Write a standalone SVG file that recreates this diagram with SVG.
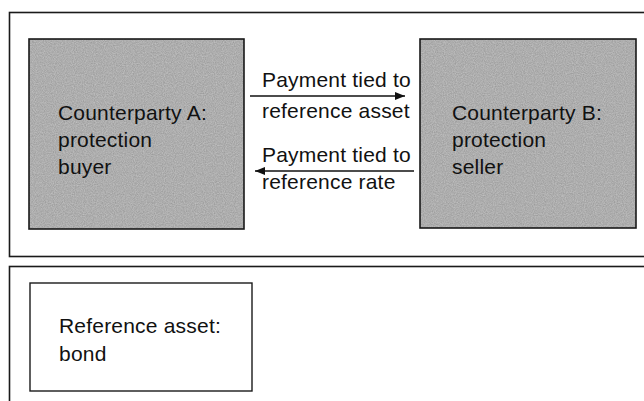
<svg xmlns="http://www.w3.org/2000/svg" width="644" height="401" viewBox="0 0 644 401">
<style>
.frame{fill:none;stroke:#1a1a1a;stroke-width:1.6}
.shade{fill:#bfbfbf;stroke:#1a1a1a;stroke-width:1.6}
.plain{fill:#ffffff;stroke:#1a1a1a;stroke-width:1.4}
.t{font-family:"Liberation Sans",Arial,sans-serif;font-size:21px;letter-spacing:0.2px;fill:#111}
.conn{stroke:#111;stroke-width:1.6;fill:none}
</style>
<defs>
<filter id="grain" x="0" y="0" width="100%" height="100%">
<feTurbulence type="fractalNoise" baseFrequency="0.9" numOctaves="2" seed="3" result="n"/>
<feColorMatrix in="n" type="matrix" values="0 0 0 0 0  0 0 0 0 0  0 0 0 0 0  0 0 0 -1.2 1.05" result="a"/>
<feComposite in="a" in2="SourceGraphic" operator="in"/>
</filter>
<marker id="ah" viewBox="0 0 10 8" refX="10" refY="4" markerWidth="10" markerHeight="8" markerUnits="userSpaceOnUse" orient="auto">
<path d="M0,0 L10,4 L0,8 Z" fill="#111"/>
</marker>
</defs>
<rect x="0" y="0" width="644" height="401" fill="#ffffff"/>
<rect class="frame" x="9.5" y="12.5" width="700" height="244"/>
<rect class="frame" x="9.5" y="266.5" width="700" height="200"/>
<g id="nodeA">
<rect class="shade" x="29" y="39" width="215" height="190"/>
<rect x="29" y="39" width="215" height="190" fill="#000" opacity="0.2" filter="url(#grain)"/>
<text class="t" x="58" y="120">Counterparty A:</text>
<text class="t" x="58" y="147">protection</text>
<text class="t" x="58" y="174">buyer</text>
</g>
<g id="nodeB">
<rect class="shade" x="420" y="39" width="216" height="189"/>
<rect x="420" y="39" width="216" height="189" fill="#000" opacity="0.2" filter="url(#grain)"/>
<text class="t" x="452" y="120">Counterparty B:</text>
<text class="t" x="452" y="147">protection</text>
<text class="t" x="452" y="174">seller</text>
</g>
<g id="nodeBond">
<rect class="plain" x="30" y="283" width="222" height="108"/>
<text class="t" x="59" y="333">Reference asset:</text>
<text class="t" x="59" y="361">bond</text>
</g>
<g id="connectors">
<line class="conn" x1="250" y1="96" x2="405" y2="96" marker-end="url(#ah)"/>
<line class="conn" x1="414" y1="171" x2="255" y2="171" marker-end="url(#ah)"/>
<text class="t" x="262" y="87">Payment tied to</text>
<text class="t" x="262" y="118">reference asset</text>
<text class="t" x="262" y="162">Payment tied to</text>
<text class="t" x="262" y="189">reference rate</text>
</g>
</svg>
